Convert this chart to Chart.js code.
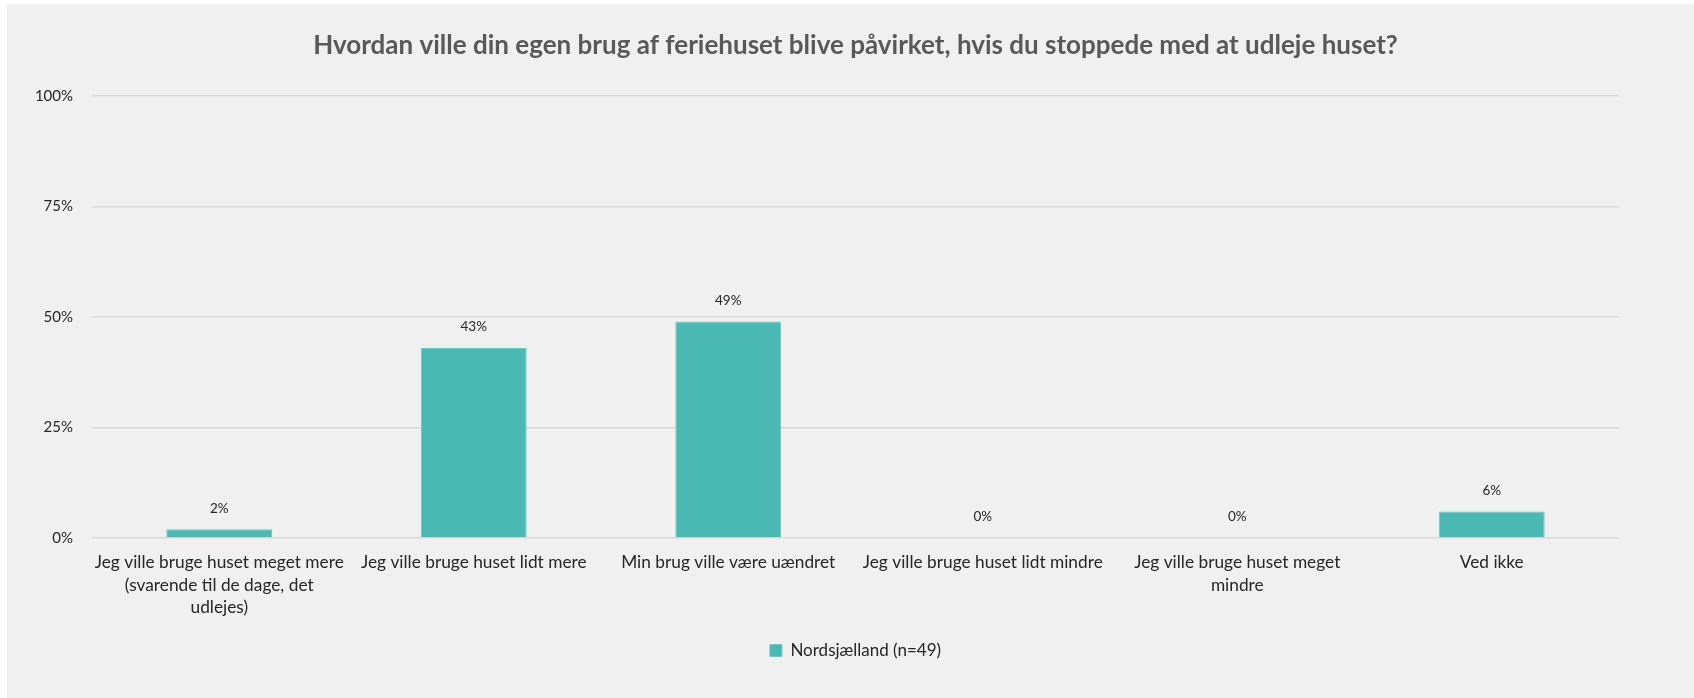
<!DOCTYPE html>
<html lang="da">
<head>
<meta charset="utf-8">
<title>Brug af feriehuset</title>
<script src="https://cdn.jsdelivr.net/npm/chart.js@4.4.1/dist/chart.umd.min.js"></script>
<style>
  html, body { margin: 0; padding: 0; background: #fff; }
  #wrap { position: absolute; left: 7px; top: 4px; width: 1687px; height: 694px; background: #f0f0f0; }
</style>
</head>
<body>
<div id="wrap"><canvas id="chart"></canvas></div>
<script>
const TITLE = 'Hvordan ville din egen brug af feriehuset blive påvirket, hvis du stoppede med at udleje huset?';
const CATEGORIES = [
  ['Jeg ville bruge huset meget mere', '(svarende til de dage, det', 'udlejes)'],
  'Jeg ville bruge huset lidt mere',
  'Min brug ville være uændret',
  'Jeg ville bruge huset lidt mindre',
  ['Jeg ville bruge huset meget', 'mindre'],
  'Ved ikke'
];
const SERIES_LABEL = 'Nordsjælland (n=49)';
const VALUES = [2, 43, 49, 0, 0, 6];
const Y_MIN = 0, Y_MAX = 100, Y_STEP = 25;

const TEAL = '#4ab8b3';
const TEXT = '#262626';
const FONT = 'Lato, "Open Sans", sans-serif';

// percentage above each bar
const valueLabels = {
  id: 'valueLabels',
  afterDatasetsDraw(chart) {
    const ctx = chart.ctx;
    const meta = chart.getDatasetMeta(0);
    ctx.save();
    ctx.font = '13.5px ' + FONT;
    ctx.fillStyle = TEXT;
    ctx.textAlign = 'center';
    ctx.textBaseline = 'middle';
    meta.data.forEach((bar, i) => {
      ctx.fillText(VALUES[i] + '%', bar.x, bar.y - 21);
    });
    ctx.restore();
  }
};

new Chart(document.getElementById('chart'), {
  type: 'bar',
  data: {
    labels: CATEGORIES,
    datasets: [{
      label: SERIES_LABEL,
      data: VALUES,
      backgroundColor: TEAL,
      borderColor: '#6cc7c2',
      borderWidth: 1,
      categoryPercentage: 1,
      barPercentage: 0.416
    }]
  },
  options: {
    responsive: true,
    maintainAspectRatio: false,
    animation: false,
    layout: { padding: { left: 10, right: 0, top: 0, bottom: 29 } },
    plugins: {
      title: {
        display: true,
        text: TITLE,
        color: '#595959',
        font: { family: FONT, size: 26, weight: 'bold' },
        padding: { top: 25.6, bottom: 35.2 }
      },
      legend: {
        position: 'bottom',
        labels: {
          color: TEXT,
          font: { family: FONT, size: 17 },
          boxWidth: 12,
          boxHeight: 12,
          padding: 10
        }
      },
      tooltip: { enabled: false }
    },
    scales: {
      x: {
        grid: { display: false, drawTicks: false },
        border: { display: false },
        ticks: {
          color: TEXT,
          font: { family: FONT, size: 17.3, lineHeight: 1.31 },
          padding: 13,
          maxRotation: 0,
          autoSkip: false
        }
      },
      y: {
        min: Y_MIN,
        max: Y_MAX,
        afterFit(scale) { scale.width = 75; },
        grid: { color: '#d9d9d9', lineWidth: 1.5, drawTicks: false },
        border: { display: false },
        ticks: {
          stepSize: Y_STEP,
          color: TEXT,
          font: { family: FONT, size: 15 },
          padding: 19,
          callback: v => v + '%'
        }
      },
      // empty right-hand margin so the title and legend stay centred on the full width
      yRight: {
        position: 'right',
        min: Y_MIN,
        max: Y_MAX,
        afterFit(scale) { scale.width = 75; },
        grid: { display: false, drawTicks: false },
        border: { display: false },
        ticks: { display: false }
      }
    }
  },
  plugins: [valueLabels]
});
</script>
</body>
</html>
